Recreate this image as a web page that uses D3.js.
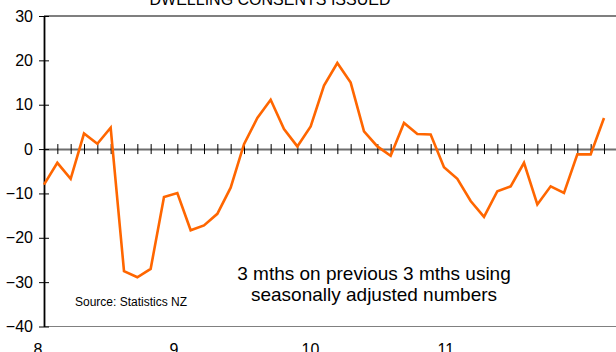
<!DOCTYPE html>
<html lang="en">
<head>
    <meta charset="UTF-8">
    <title>Dwelling consents issued</title>
    <script src="https://d3js.org/d3.v7.min.js"></script>
    <style>
        body {
            margin: 0;
            font-family: "Liberation Sans", Arial, sans-serif;
            background: #fff;
        }
        svg text {
            fill: #000;
        }
    </style>
</head>
<body>
<svg id="chart" width="616" height="352"></svg>

<script>
    // 3 mths on previous 3 mths % change, monthly
    const values = [
        -8.0, -3.1, -6.7, 3.5, 1.2, 4.8, -27.5, -28.9, -27.0, -10.8,
        -9.9, -18.3, -17.2, -14.6, -8.7, 1.1, 7.0, 11.1, 4.5, 0.6,
        5.1, 14.3, 19.4, 15.0, 4.0, 0.6, -1.5, 5.9, 3.4, 3.3,
        -4.1, -6.7, -11.7, -15.3, -9.5, -8.4, -3.1, -12.5, -8.4, -9.9,
        -1.2, -1.2, 7.0
    ];
    const yTicks = [-40, -30, -20, -10, 0, 10, 20, 30];
    const yearLabels = ["8", "9", "10", "11"];
    const yearPos = [-0.5, 9.7, 19.95, 30.1];

    const margin = { top: 16, right: 0, bottom: 25, left: 44 };
    const width = 616;
    const height = 352;

    const svg = d3.select("#chart");

    const x = d3.scaleLinear()
        .domain([0, 42.9])
        .range([margin.left, width]);

    const y = d3.scaleLinear()
        .domain([-40, 30])
        .range([height - margin.bottom - 0.5, margin.top]);

    // title (cut off at the top edge)
    svg.append("text")
        .attr("x", 270)
        .attr("y", 5)
        .attr("text-anchor", "middle")
        .style("font-size", "16px")
        .text("DWELLING CONSENTS ISSUED");

    // plot frame: top black, bottom grey
    svg.append("line")
        .attr("x1", margin.left).attr("x2", width)
        .attr("y1", y(30)).attr("y2", y(30))
        .attr("stroke", "#000").attr("stroke-width", 1.2);
    svg.append("line")
        .attr("x1", margin.left).attr("x2", width)
        .attr("y1", y(-40)).attr("y2", y(-40))
        .attr("stroke", "#808080").attr("stroke-width", 1.2);

    // zero axis with crossing month ticks
    const xAxis = svg.append("g")
        .attr("transform", `translate(0, ${y(0)})`)
        .call(d3.axisBottom(x)
            .tickValues(d3.range(1, 43))
            .tickSizeOuter(0)
            .tickFormat(""));
    xAxis.select(".domain")
        .attr("stroke", "#6e6e6e")
        .attr("stroke-width", 2);
    xAxis.selectAll(".tick line")
        .attr("y1", -5)
        .attr("y2", 5)
        .attr("stroke", "#000");

    // year labels under the plot (cut off at bottom edge)
    const yearAxis = svg.append("g")
        .attr("transform", `translate(0, ${y(-40)})`)
        .call(d3.axisBottom(x)
            .tickValues(yearPos)
            .tickSize(0)
            .tickPadding(17)
            .tickFormat((d, i) => yearLabels[i]));
    yearAxis.select(".domain").remove();
    yearAxis.selectAll("text")
        .style("font-size", "16px")
        .style("font-family", "'Liberation Sans', Arial, sans-serif");

    // left axis with crossing ticks
    const yAxis = svg.append("g")
        .attr("transform", `translate(${margin.left}, 0)`)
        .call(d3.axisLeft(y)
            .tickValues(yTicks)
            .tickSizeOuter(0)
            .tickSizeInner(5)
            .tickPadding(6));
    yAxis.select(".domain")
        .attr("stroke", "#000")
        .attr("stroke-width", 1.8);
    yAxis.selectAll(".tick line")
        .attr("x1", 5)
        .attr("stroke", "#000");
    yAxis.selectAll("text")
        .style("font-size", "16px")
        .style("font-family", "'Liberation Sans', Arial, sans-serif");

    // the series
    const line = d3.line()
        .x((d, i) => x(i))
        .y(d => y(d));

    svg.append("path")
        .datum(values)
        .attr("fill", "none")
        .attr("stroke", "#ff6600")
        .attr("stroke-width", 2.6)
        .attr("stroke-linejoin", "miter")
        .attr("d", line);

    // notes
    svg.append("text")
        .attr("x", 75)
        .attr("y", 306)
        .style("font-size", "12px")
        .text("Source: Statistics NZ");

    const note = svg.append("text")
        .attr("x", 374)
        .attr("text-anchor", "middle")
        .style("font-size", "19px");
    note.append("tspan").attr("x", 374).attr("y", 280).text("3 mths on previous 3 mths using");
    note.append("tspan").attr("x", 374).attr("y", 301).text("seasonally adjusted numbers");
</script>
</body>
</html>
